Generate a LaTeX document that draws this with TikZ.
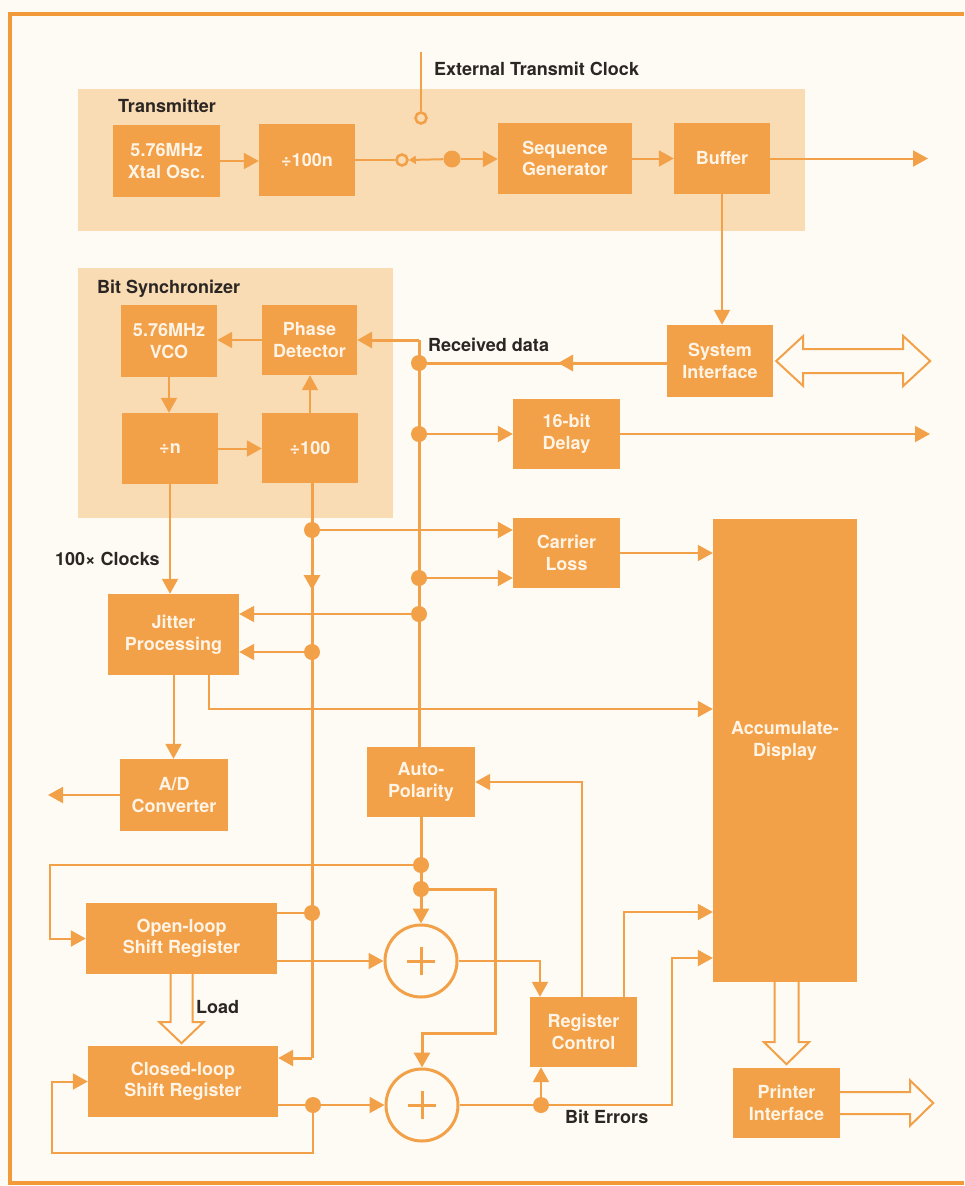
\documentclass[tikz,border=0pt]{standalone}
\usepackage{fontspec}
\setmainfont{TeX Gyre Heros}
\usetikzlibrary{arrows.meta,calc}
\definecolor{org}{HTML}{F2A149}
\definecolor{frm}{HTML}{F29A3A}
\definecolor{panel}{HTML}{F9DCB4}
\definecolor{bg}{HTML}{FDFBF4}
\definecolor{txt}{HTML}{2B2623}
\definecolor{boxtxt}{HTML}{FFF4E6}
\begin{document}
\begin{tikzpicture}[x=1pt,y=-1pt,
  blk/.style={rectangle, fill=org, inner sep=0pt, align=center, text=boxtxt, font=\bfseries\fontsize{18}{21.5}\selectfont},
  blktext/.style={inner sep=0pt, align=center, text=boxtxt, font=\bfseries\fontsize{18}{21.5}\selectfont},
  lbl/.style={text=txt, font=\bfseries\fontsize{18}{21.5}\selectfont, inner sep=0pt},
  ln/.style={draw=org, line width=2pt},
  tk/.style={draw=org, line width=3pt},
  arr/.style={-{Triangle[length=15pt,width=16pt]}},
  dot/.style={circle, fill=org, inner sep=0pt, minimum size=16pt},
  ring/.style={circle, draw=org, line width=2.6pt, fill=panel, inner sep=0pt, minimum size=11pt},
  hollow/.style={draw=org, line width=2pt, fill=bg, line join=miter},
  adder/.style={circle, draw=org, line width=3pt, fill=bg, inner sep=0pt, minimum size=72pt}
]
\useasboundingbox (0,0) rectangle (964,1186);
\fill[bg] (0,0) rectangle (964,1186);
\draw[frm, line width=4pt] (964,14) -- (10,14) -- (10,1183) -- (964,1183);
% panels
\fill[panel] (78,89) rectangle (805,231);
\fill[panel] (78,268) rectangle (393,518);
\node[lbl, anchor=base west] (tlab) at (118,112.5) {Transmitter};
\node[lbl, anchor=base west] (blab) at (97,293.5) {Bit Synchronizer};
\node[lbl, anchor=base west] (elab) at (434,75.5) {External Transmit Clock};
\node[lbl, anchor=base west] (rlab) at (428,351.5) {Received data};
\node[lbl, anchor=base west] (clab) at (55,565.5) {100× Clocks};
\node[lbl, anchor=base west] (llab) at (196,1013.5) {Load};
\node[lbl, anchor=base west] (belab) at (565,1123.5) {Bit Errors};
% blocks
\node[blk, minimum width=107pt, minimum height=72pt] (xtal) at (166.5,161) {5.76MHz\\Xtal Osc.};
\node[blk, minimum width=96pt, minimum height=72pt] (dnn) at (307,160) {÷100n};
\node[blk, minimum width=134pt, minimum height=71pt] (seq) at (565,158.5) {Sequence\\Generator};
\node[blk, minimum width=96pt, minimum height=71pt] (buf) at (722,158.5) {Buffer};
\node[blk, minimum width=96pt, minimum height=72pt] (vco) at (169,341) {5.76MHz\\VCO};
\node[blk, minimum width=95pt, minimum height=70pt] (pd) at (309.5,340) {Phase\\Detector};
\node[blk, minimum width=96pt, minimum height=71pt] (dn) at (170,448.5) {÷n};
\node[blk, minimum width=96pt, minimum height=70pt] (dh) at (310,448) {÷100};
\node[blk, minimum width=106pt, minimum height=72pt] (sys) at (720,361) {System\\Interface};
\node[blk, minimum width=107pt, minimum height=70pt] (dly) at (566.5,434) {16-bit\\Delay};
\node[blk, minimum width=107pt, minimum height=70pt] (car) at (566.5,553) {Carrier\\Loss};
\node[blk, minimum width=144pt, minimum height=463pt] (acc) at (785,750.5) {};
\node[blktext] (acctxt) at ($(acc.center)+(0,-9.5)$) {Accumulate-\\Display};
\node[blk, minimum width=131pt, minimum height=81pt] (jit) at (173.5,634.5) {Jitter\\Processing};
\node[blk, minimum width=108pt, minimum height=72pt] (adc) at (174,795) {A/D\\Converter};
\node[blk, minimum width=108pt, minimum height=70pt] (apol) at (421,782) {Auto-\\Polarity};
\node[blk, minimum width=191pt, minimum height=71pt] (ol) at (181.5,938.5) {Open-loop\\Shift Register};
\node[blk, minimum width=190pt, minimum height=71pt] (cl) at (183,1081.5) {Closed-loop\\Shift Register};
\node[blk, minimum width=107pt, minimum height=70pt] (rc) at (583.5,1032) {Register\\Control};
\node[blk, minimum width=107pt, minimum height=70pt] (pri) at (786.5,1103) {Printer\\Interface};
\node[adder] (ad1) at (421,961) {};
\node[adder] (ad2) at (422,1105) {};
\draw[org, line width=3pt] ($(ad1)+(-14,0)$) -- ($(ad1)+(14,0)$);
\draw[org, line width=3pt] ($(ad1)+(0,-14)$) -- ($(ad1)+(0,14)$);
\draw[org, line width=3pt] ($(ad2)+(-14,0)$) -- ($(ad2)+(14,0)$);
\draw[org, line width=3pt] ($(ad2)+(0,-14)$) -- ($(ad2)+(0,14)$);
% transmitter
\coordinate (extT) at (421,52);
\node[ring] (sw2) at (421,118) {};
\node[ring] (sw1) at (402,160) {};
\node[dot, minimum size=17pt] (piv) at (452,159) {};
\coordinate (txout) at (928,158.5);
\draw[ln] (extT) -- (sw2.north);
\draw[ln, arr] (xtal.east) -- (dnn.west |- xtal.east);
\draw[ln] (dnn.east |- sw1) -- (sw1.west);
\draw[ln, -{Triangle[length=7pt,width=8pt]}] (piv) -- (sw1.east);
\draw[ln, arr] (piv) -- (seq.west |- piv);
\draw[ln, arr] (seq.east) -- (buf.west);
\draw[ln, arr] (buf.east) -- (txout);
\draw[ln, arr] (buf.south) -- (buf.south |- sys.north);
% bit sync
\draw[ln, arr] (pd.west) -- (vco.east |- pd.west);
\draw[ln, arr] (vco.south) -- (vco.south |- dn.north);
\draw[ln, arr] (dn.east) -- (dh.west |- dn.east);
\draw[ln, arr] (dh.north) -- (dh.north |- pd.south);
% received data
\coordinate (rtop) at (419,340);
\node[dot] (r1) at (419,363) {};
\node[dot] (r2) at (419,434) {};
\node[dot] (r3) at (419,578) {};
\node[dot] (r4) at (419,614) {};
\coordinate (rmid) at (558,363);
\coordinate (dlyout) at (930,434);
\draw[tk] (sys.west |- r1) -- (r1);
\draw[tk, arr] (sys.west |- r1) -- (rmid);
\draw[tk, arr] (rtop) -- (pd.east |- rtop);
\draw[tk] (rtop) -- (rtop |- apol.north);
\draw[ln, arr] (r2) -- (dly.west |- r2);
\draw[ln, arr] (r3) -- (car.west |- r3);
\draw[ln, arr] (r4) -- (jit.east |- r4);
\draw[ln, arr] (dly.east) -- (dlyout);
% clock line
\node[dot] (c1) at (312,530) {};
\node[dot] (c2) at (312,652) {};
\node[dot] (c3) at (312,913) {};
\coordinate (cbot) at (312,1058);
\coordinate (cmid) at (312,590);
\draw[tk] (c1 |- dh.south) -- (cbot);
\draw[tk, arr] (c1) -- (cmid);
\draw[tk, arr] (cbot) -- (cl.east |- cbot);
\draw[ln, arr] (c1) -- (car.west |- c1);
\draw[ln, arr] (c2) -- (jit.east |- c2);
\draw[ln] (c3) -- (ol.east |- c3);
\draw[ln, arr] (car.east) -- (acc.west |- car.east);
% jitter
\coordinate (j2) at (209,709);
\coordinate (adout) at (48,795);
\draw[ln, arr] (dn.south) -- (dn.south |- jit.north);
\draw[ln, arr] (jit.south) -- (jit.south |- adc.north);
\draw[ln, arr] (jit.south -| j2) -- (j2) -- (acc.west |- j2);
\draw[ln, arr] (adc.west) -- (adout);
% lower section
\node[dot] (a1) at (421,865) {};
\node[dot] (a2) at (421,889) {};
\coordinate (lA) at (50,865);
\coordinate (lB) at (495,889);
\coordinate (lC) at (495,1033);
\draw[tk, arr] (apol.south) -- (ad1.north);
\draw[ln, arr] (a1) -- (lA) -- (lA |- ol.west) -- (ol.west);
\draw[tk, arr] (a2) -- (lB) -- (lC) -- (ad2.north |- lC) -- (ad2.north);
\draw[ln, arr] (ol.east |- ad1) -- (ad1.west);
\draw[hollow] ($(ol.south)+(-11,0)$) -- ++(0,48) -- ++(-11,0) -- ($(ol.south)+(0,69)$) -- ($(ol.south)+(22,48)$) -- ++(-11,0) -- ++(0,-48);
\node[dot] (d1) at (313,1105) {};
\coordinate (lD) at (313,1153);
\coordinate (lE) at (52,1153);
\draw[ln] (cl.east |- d1) -- (d1);
\draw[ln, arr] (d1) -- (ad2.west);
\draw[ln, arr] (d1) -- (lD) -- (lE) -- (lE |- cl.west) -- (cl.west);
\coordinate (u1) at (540,961);
\coordinate (u2) at (582,782);
\coordinate (u3) at (624,912);
\draw[ln, arr] (ad1.east) -- (u1) -- (u1 |- rc.north);
\draw[ln, arr] (rc.north -| u2) -- (u2) -- (apol.east |- u2);
\draw[ln, arr] (rc.north -| u3) -- (u3) -- (acc.west |- u3);
\node[dot] (e1) at (541,1105) {};
\coordinate (u4) at (672,1105);
\coordinate (u5) at (672,958);
\draw[ln] (ad2.east) -- (e1);
\draw[ln, arr] (e1) -- (u4) -- (u5) -- (acc.west |- u5);
\draw[ln, arr] (e1) -- (e1 |- rc.south);
% hollow arrows
\coordinate (P) at (acc.south -| pri.north);
\draw[hollow] ($(P)+(-12,0)$) -- ++(0,60) -- ++(-10.5,0) -- ($(P)+(0,82)$) -- ($(P)+(22.5,60)$) -- ++(-10.5,0) -- ++(0,-60);
\draw[hollow] ($(pri.east)+(0,-11)$) -- ++(70,0) -- ++(0,-11.5) -- ++(23,22.5) -- ++(-23,22.5) -- ++(0,-11.5) -- ++(-70,0);
\draw[hollow] ($(sys.east)+(3,0)$) -- ++(27,-25) -- ++(0,13) -- ++(100,0) -- ++(0,-13) -- ++(27,25) -- ++(-27,25) -- ++(0,-13) -- ++(-100,0) -- ++(0,13) -- cycle;
\end{tikzpicture}
\end{document}
